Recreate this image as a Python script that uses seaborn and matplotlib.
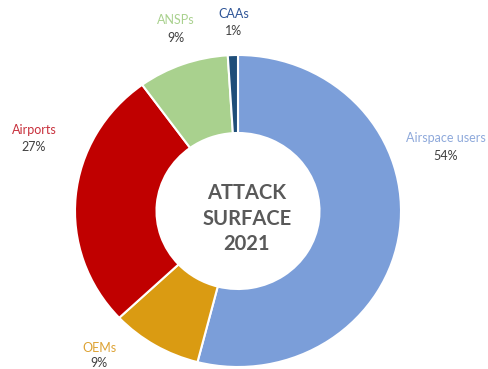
import matplotlib
matplotlib.use("Agg")
import matplotlib.pyplot as plt
import seaborn as sns

# Attack surface shares by stakeholder group (clockwise from 12 o'clock)
categories = ["Airspace users", "OEMs", "Airports", "ANSPs", "CAAs"]
shares = [54, 9, 27, 9, 1]
slice_colors = ["#7B9ED9", "#DA9B12", "#C00000", "#A9D18E", "#1F4E79"]
label_colors = ["#8EA9DB", "#DDA233", "#C8303C", "#A9D18E", "#2F5597"]
center_lines = ["ATTACK", "SURFACE", "2021"]

sns.set_theme(style="white")
plt.rcParams["font.family"] = ["Lato", "DejaVu Sans"]

W, H = 489, 369
fig = plt.figure(figsize=(W / 100, H / 100), dpi=100)
ax = fig.add_axes([0, 0, 1, 1])

wedges, _ = ax.pie(
    shares,
    colors=slice_colors,
    startangle=90,
    counterclock=False,
    radius=1.0,
    wedgeprops=dict(width=0.5, edgecolor="white", linewidth=1.5),
)

# Slightly wider than tall, centred left of the figure middle
cx, cy = 238, 211
rx, ry = 163, 156
ax.set_aspect("auto")
ax.set_xlim(-cx / rx, (W - cx) / rx)
ax.set_ylim(-(H - cy) / ry, cy / ry)
ax.axis("off")


def px(x, y):
    return (x - cx) / rx, (cy - y) / ry


# Label anchor points (name line, percent line) in pixel space
label_pos = {
    "Airspace users": (446, 138, 446, 156),
    "OEMs": (99, 348, 99, 363),
    "Airports": (34, 130, 34, 147),
    "ANSPs": (176, 20, 176, 38),
    "CAAs": (234, 14, 234, 31),
}

for name, val, col in zip(categories, shares, label_colors):
    nx, ny, vx, vy = label_pos[name]
    ax.text(*px(nx, ny), name, ha="center", va="center", fontsize=9, color=col)
    ax.text(*px(vx, vy), f"{val}%", ha="center", va="center", fontsize=9, color="#404040")

for i, line in enumerate(center_lines):
    ax.text(*px(247, 193 + 25.5 * i), line, ha="center", va="center",
            fontsize=14.5, fontweight="bold", color="#595959")

fig.savefig("out.png", dpi=100, facecolor="white")
